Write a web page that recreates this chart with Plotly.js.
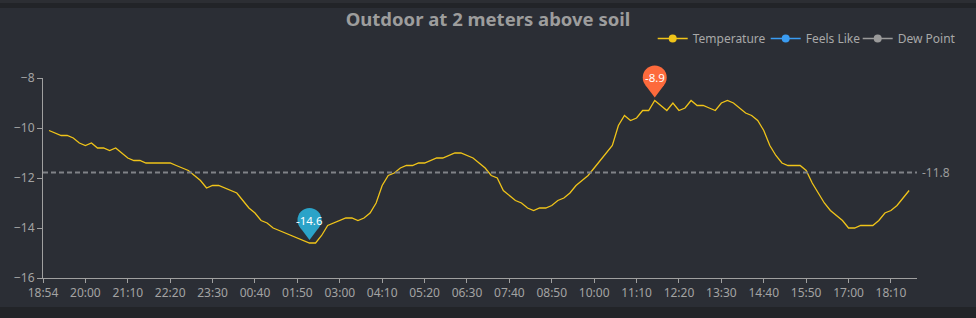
<!DOCTYPE html>
<html>
<head>
<meta charset="utf-8">
<script src="https://cdn.plot.ly/plotly-3.0.1.min.js"></script>
<style>
  html, body { margin:0; padding:0; width:976px; height:318px; overflow:hidden; background:#222428; }
  #topband { position:absolute; left:0; top:0; width:976px; height:3px; background:#2c2e33; }
  #panel { position:absolute; left:0; top:8px; width:976px; height:299px; background:#2b2e35; }
  #chart { position:absolute; left:0; top:0; width:976px; height:318px; }
</style>
</head>
<body>
<div id="topband"></div>
<div id="panel"></div>
<div id="chart"></div>
<script>
// Category axis (time of day, 10 min steps)
const times = [
  "18:54",
  "19:00","19:10","19:20","19:30","19:40","19:50",
  "20:00","20:10","20:20","20:30","20:40","20:50",
  "21:00","21:10","21:20","21:30","21:40","21:50",
  "22:00","22:10","22:20","22:30","22:40","22:50",
  "23:00","23:10","23:20","23:30","23:40","23:50",
  "00:00","00:10","00:20","00:30","00:40","00:50",
  "01:00","01:10","01:20","01:30","01:40","01:50",
  "02:00","02:10","02:20","02:30","02:40","02:50",
  "03:00","03:10","03:20","03:30","03:40","03:50",
  "04:00","04:10","04:20","04:30","04:40","04:50",
  "05:00","05:10","05:20","05:30","05:40","05:50",
  "06:00","06:10","06:20","06:30","06:40","06:50",
  "07:00","07:10","07:20","07:30","07:40","07:50",
  "08:00","08:10","08:20","08:30","08:40","08:50",
  "09:00","09:10","09:20","09:30","09:40","09:50",
  "10:00","10:10","10:20","10:30","10:40","10:50",
  "11:00","11:10","11:20","11:30","11:40","11:50",
  "12:00","12:10","12:20","12:30","12:40","12:50",
  "13:00","13:10","13:20","13:30","13:40","13:50",
  "14:00","14:10","14:20","14:30","14:40","14:50",
  "15:00","15:10","15:20","15:30","15:40","15:50",
  "16:00","16:10","16:20","16:30","16:40","16:50",
  "17:00","17:10","17:20","17:30","17:40","17:50",
  "18:00","18:10","18:20","18:30","18:40","18:50"
];

const xTickLabels = ["18:54","20:00","21:10","22:20","23:30","00:40","01:50","03:00","04:10","05:20","06:30",
  "07:40","08:50","10:00","11:10","12:20","13:30","14:40","15:50","17:00","18:10"];

// Temperature (°C)
const temperature = [
  null,
  -10.1,-10.2,-10.3,-10.3,-10.4,-10.6,-10.7,-10.6,-10.8,-10.8,
  -10.9,-10.8,-11.0,-11.2,-11.3,-11.3,-11.4,-11.4,-11.4,-11.4,
  -11.4,-11.5,-11.6,-11.7,-11.9,-12.1,-12.4,-12.3,-12.3,-12.4,
  -12.5,-12.6,-12.9,-13.2,-13.4,-13.7,-13.8,-14.0,-14.1,-14.2,
  -14.3,-14.4,-14.5,-14.6,-14.6,-14.3,-13.9,-13.8,-13.7,-13.6,
  -13.6,-13.7,-13.6,-13.4,-13.0,-12.3,-11.9,-11.8,-11.6,-11.5,
  -11.5,-11.4,-11.4,-11.3,-11.2,-11.2,-11.1,-11.0,-11.0,-11.1,
  -11.2,-11.4,-11.6,-11.9,-12.0,-12.5,-12.7,-12.9,-13.0,-13.2,
  -13.3,-13.2,-13.2,-13.1,-12.9,-12.8,-12.6,-12.3,-12.1,-11.9,
  -11.6,-11.3,-11.0,-10.7,-9.9,-9.5,-9.7,-9.6,-9.3,-9.3,
  -8.9,-9.1,-9.3,-9.0,-9.3,-9.2,-8.9,-9.1,-9.1,-9.2,
  -9.3,-9.0,-8.9,-9.0,-9.2,-9.4,-9.5,-9.7,-10.1,-10.7,
  -11.1,-11.4,-11.5,-11.5,-11.5,-11.7,-12.2,-12.6,-13.0,-13.3,
  -13.5,-13.7,-14.0,-14.0,-13.9,-13.9,-13.9,-13.7,-13.4,-13.3,
  -13.1,-12.8,-12.5,
  null
];
// no readings shown for these series
const feelsLike = [null];
const dewPoint = [null];

const seriesNames = ["Temperature", "Feels Like", "Dew Point"];
const seriesColors = ["#f0c419", "#3a9cf2", "#9a9a9a"];
const seriesData = [temperature, feelsLike, dewPoint];
const legendIds = ["legend", "legend2", "legend3"];
const legendTextX = [693, 806, 898];   // pixel x of each legend label start

const Y_MIN = -16, Y_MAX = -8;
const M = { l: 43.3, r: 58.7, t: 78.3, b: 39.7 };
const PW = 976 - M.l - M.r;

// statistics
let minI = -1, maxI = -1, sum = 0, n = 0;
temperature.forEach((v, i) => {
  if (v === null) return;
  sum += v; n++;
  if (minI < 0 || v < temperature[minI]) minI = i;
  if (maxI < 0 || v > temperature[maxI]) maxI = i;
});
const mean = sum / n;

const traces = [];
seriesData.forEach((d, k) => {
  traces.push({ x: d.map((_, i) => times[i]), y: d, name: seriesNames[k], type: 'scatter', mode: 'lines',
    line: { color: seriesColors[k], width: 1.3 }, showlegend: false });
});
seriesNames.forEach((nm, k) => {
  traces.push({ x: [times[0]], y: [null], name: nm, type: 'scatter', mode: 'lines+markers',
    line: { color: seriesColors[k], width: 1.5 }, marker: { size: 8, color: seriesColors[k] },
    showlegend: true, legend: legendIds[k] });
});

function yPaper(v) { return (v - Y_MIN) / (Y_MAX - Y_MIN); }

function pinShapes(idx, val, color) {
  const ya = yPaper(val);
  return [
    { type: 'circle', xref: 'x', yref: 'paper', xsizemode: 'pixel', ysizemode: 'pixel',
      xanchor: idx, yanchor: ya, x0: -12, x1: 12, y0: 11, y1: 35,
      fillcolor: color, line: { width: 0 } },
    { type: 'path', xref: 'x', yref: 'paper', xsizemode: 'pixel', ysizemode: 'pixel',
      xanchor: idx, yanchor: ya, path: 'M 0 3 L -9.6 15.8 L 9.6 15.8 Z',
      fillcolor: color, line: { width: 0 } }
  ];
}

const shapes = [
  { type: 'line', xref: 'paper', yref: 'y', x0: 0, x1: 1, y0: mean, y1: mean,
    line: { color: '#808287', width: 2, dash: '5px,3px' } },
  ...pinShapes(minI, temperature[minI], '#2ba3c8'),
  ...pinShapes(maxI, temperature[maxI], '#fd6a3c')
];

const annotations = [
  { xref: 'x', yref: 'paper', x: minI, y: yPaper(temperature[minI]), yshift: 23, yanchor: 'middle', xanchor: 'center',
    showarrow: false, text: temperature[minI].toFixed(1), font: { color: '#ffffff', size: 11.5, family: 'Noto Sans' } },
  { xref: 'x', yref: 'paper', x: maxI, y: yPaper(temperature[maxI]), yshift: 23, yanchor: 'middle', xanchor: 'center',
    showarrow: false, text: temperature[maxI].toFixed(1), font: { color: '#ffffff', size: 11.5, family: 'Noto Sans' } },
  { xref: 'paper', yref: 'y', x: 1, y: mean, xanchor: 'left', yanchor: 'middle', xshift: 3, showarrow: false,
    text: mean.toFixed(1), font: { color: '#9c9c9c', size: 12, family: 'Noto Sans' } }
];

const legendBase = { orientation: 'h', xanchor: 'left', y: 1.197, yanchor: 'middle',
  font: { family: 'Noto Sans', size: 12, color: '#a8a8a8' }, bgcolor: 'rgba(0,0,0,0)',
  itemwidth: 30, borderwidth: 0 };

const layout = {
  width: 976, height: 318,
  margin: M,
  paper_bgcolor: 'rgba(0,0,0,0)',
  plot_bgcolor: 'rgba(0,0,0,0)',
  font: { family: 'Noto Sans', color: '#a3a3a3', size: 12 },
  title: { text: '<b>Outdoor at 2 meters above soil</b>', x: 0.5, xref: 'container', xanchor: 'center',
    y: 1 - 20 / 318, yref: 'container', yanchor: 'middle',
    font: { family: 'Noto Sans', size: 18.5, color: '#9d9d9d' } },
  showlegend: true,
  xaxis: {
    type: 'category', categoryorder: 'array', categoryarray: times,
    range: [0, 144.3], tickmode: 'array', tickvals: xTickLabels, ticktext: xTickLabels,
    showgrid: false, zeroline: false, showline: true, linecolor: '#a0a0a0', linewidth: 1,
    ticks: 'outside', ticklen: 4, tickcolor: '#a0a0a0', tickfont: { size: 12, color: '#a3a3a3' },
    fixedrange: true
  },
  yaxis: {
    range: [Y_MIN, Y_MAX], tickvals: [-16, -14, -12, -10, -8],
    showgrid: false, zeroline: false, showline: true, linecolor: '#a0a0a0', linewidth: 1,
    ticks: 'outside', ticklen: 5, tickcolor: '#a0a0a0', tickfont: { size: 12, color: '#a3a3a3' },
    fixedrange: true
  },
  shapes: shapes,
  annotations: annotations,
  hovermode: false
};
legendIds.forEach((id, k) => {
  layout[id] = Object.assign({}, legendBase, { x: (legendTextX[k] - 40 - M.l) / PW });
});

Plotly.newPlot('chart', traces, layout, { staticPlot: true, displayModeBar: false });
</script>
</body>
</html>
